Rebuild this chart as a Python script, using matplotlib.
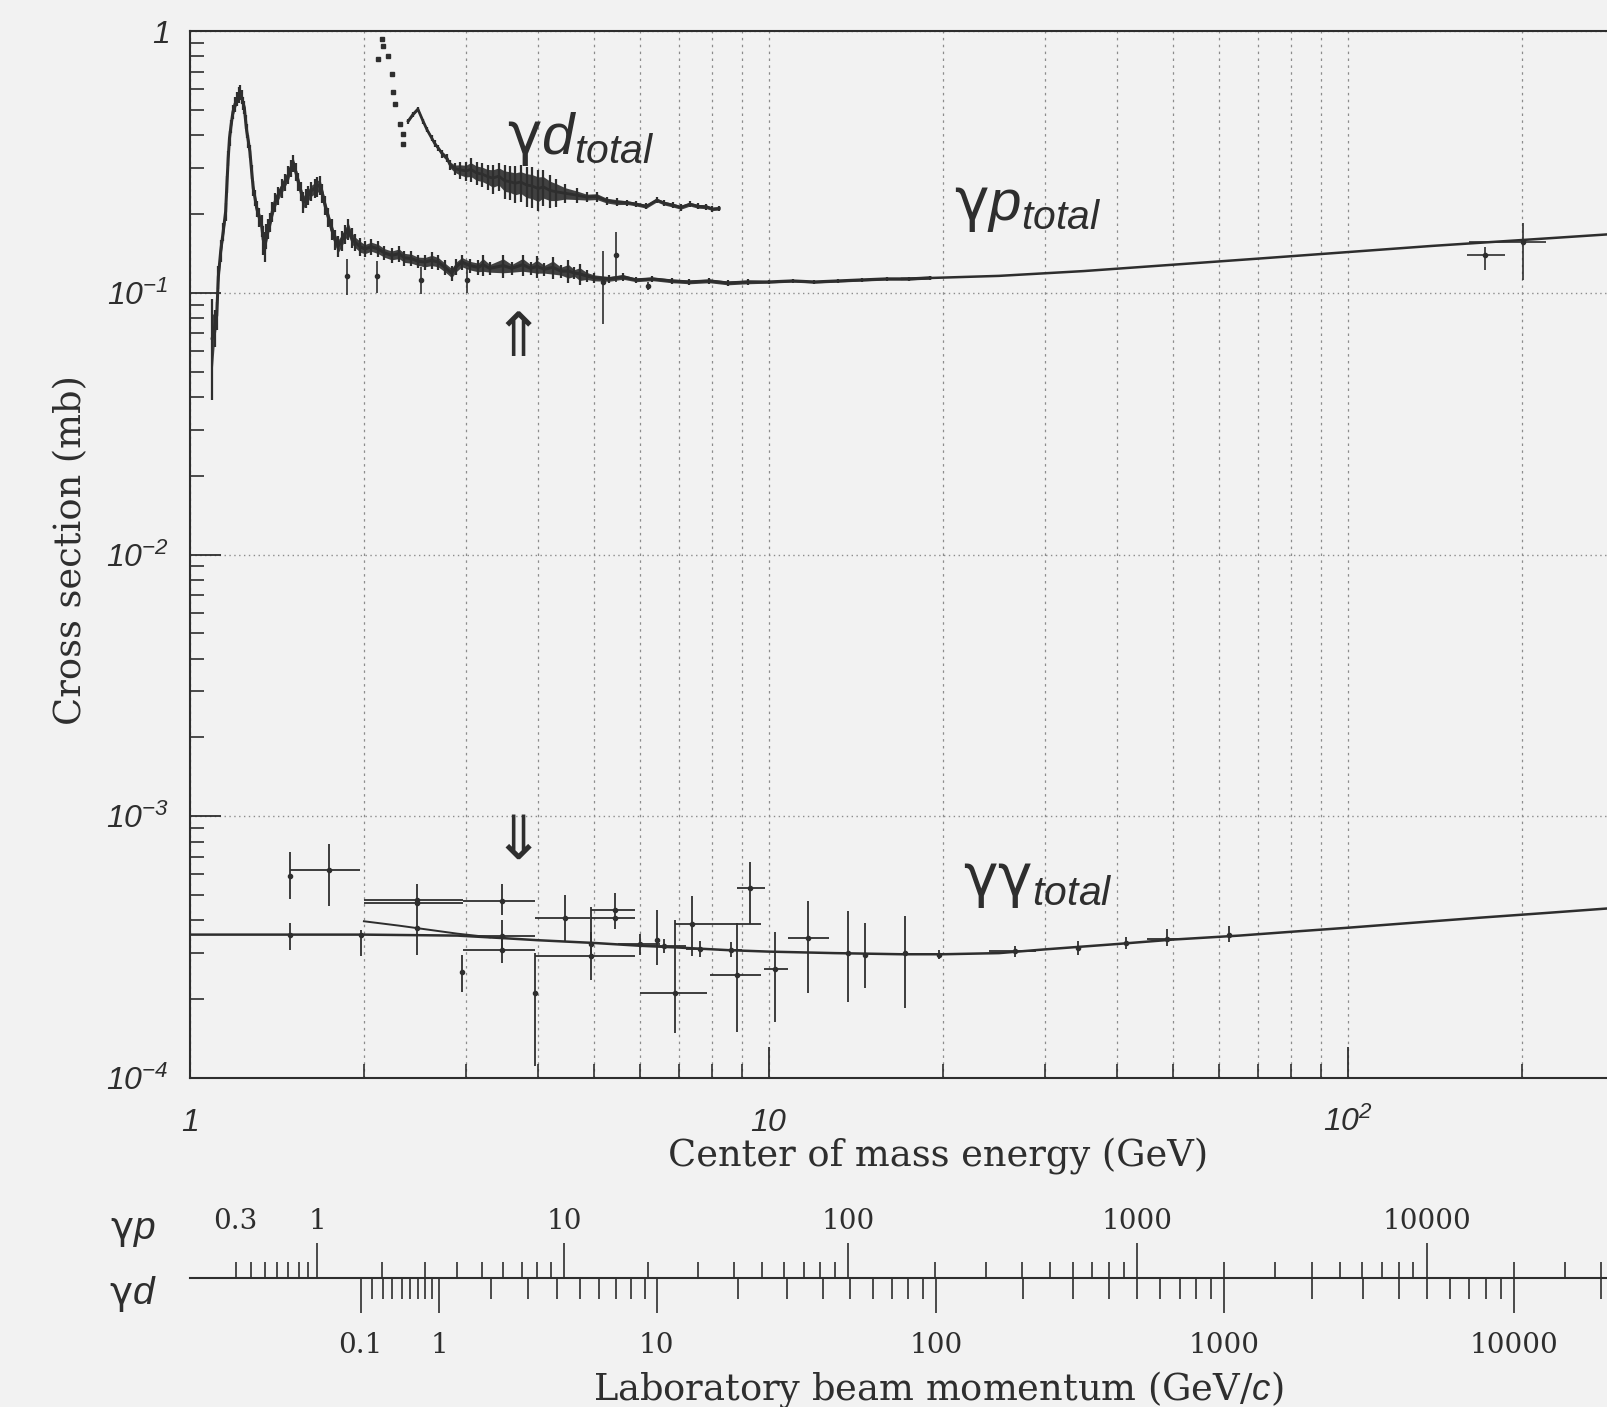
import numpy as np
import matplotlib.pyplot as plt
from matplotlib.ticker import LogLocator, NullFormatter

plt.rcParams['mathtext.fontset'] = 'custom'
plt.rcParams['mathtext.rm'] = 'Liberation Sans:italic'
plt.rcParams['mathtext.it'] = 'Liberation Sans:italic'
plt.rcParams['mathtext.sf'] = 'DejaVu Sans'

INK = '#2e2e2e'
PAPER = '#f2f2f2'
GRID = '#8c8c8c'
SERIF = 'DejaVu Serif'

# gamma p total cross section, dense data (W in GeV, sigma in mb)
gp_E = [1.094, 1.105, 1.114, 1.121, 1.132, 1.143, 1.154, 1.160, 1.166, 1.172,
        1.179, 1.188, 1.198, 1.208, 1.216, 1.222, 1.230, 1.237, 1.243, 1.250,
        1.255, 1.263, 1.271, 1.280, 1.288, 1.297, 1.306, 1.318, 1.332, 1.340,
        1.349, 1.357, 1.366, 1.377, 1.390, 1.404, 1.420, 1.442, 1.460, 1.481,
        1.495, 1.510, 1.525, 1.540, 1.556, 1.572, 1.588, 1.603, 1.620, 1.646,
        1.662, 1.679, 1.695, 1.713, 1.735, 1.759, 1.782, 1.806, 1.830, 1.855,
        1.880, 1.905, 1.931, 1.970, 2.008, 2.060, 2.117, 2.170, 2.233, 2.300,
        2.350, 2.416, 2.480, 2.549, 2.620, 2.687, 2.760, 2.835, 2.890, 2.953,
        3.050, 3.151, 3.210, 3.300, 3.480, 3.600, 3.760, 3.880, 3.980, 4.100,
        4.240, 4.380, 4.510, 4.620, 4.720, 4.850, 5.000, 5.300, 5.600, 5.900,
        6.300, 6.800, 7.300, 7.900, 8.500, 9.200, 10.00, 11.00, 12.00, 13.20,
        14.50, 16.00, 17.50, 19.00]
gp_sig = [0.067, 0.074, 0.082, 0.115, 0.145, 0.171, 0.204, 0.260, 0.327, 0.390,
          0.434, 0.490, 0.526, 0.550, 0.570, 0.583, 0.560, 0.530, 0.510, 0.450,
          0.415, 0.380, 0.346, 0.290, 0.251, 0.230, 0.210, 0.195, 0.181, 0.160,
          0.151, 0.165, 0.176, 0.186, 0.205, 0.222, 0.235, 0.251, 0.265, 0.282,
          0.300, 0.313, 0.290, 0.266, 0.245, 0.222, 0.230, 0.236, 0.245, 0.251,
          0.255, 0.258, 0.240, 0.216, 0.195, 0.175, 0.160, 0.151, 0.158, 0.168,
          0.175, 0.162, 0.156, 0.150, 0.147, 0.150, 0.147, 0.142, 0.139, 0.141,
          0.136, 0.135, 0.132, 0.131, 0.133, 0.131, 0.125, 0.119, 0.126, 0.131,
          0.127, 0.125, 0.128, 0.124, 0.127, 0.124, 0.128, 0.124, 0.126, 0.123,
          0.125, 0.121, 0.121, 0.119, 0.118, 0.116, 0.114, 0.113, 0.115, 0.112,
          0.113, 0.111, 0.110, 0.111, 0.109, 0.110, 0.110, 0.111, 0.110, 0.111,
          0.112, 0.113, 0.113, 0.114]
gp_err = [0.028, 0.012, 0.010, 0.012, 0.014, 0.014, 0.016, 0.020, 0.022, 0.025,
          0.025, 0.030, 0.035, 0.035, 0.040, 0.040, 0.035, 0.030, 0.030, 0.028,
          0.025, 0.022, 0.020, 0.018, 0.016, 0.016, 0.015, 0.016, 0.018, 0.020,
          0.020, 0.018, 0.016, 0.016, 0.018, 0.018, 0.018, 0.020, 0.020, 0.022,
          0.022, 0.024, 0.022, 0.022, 0.020, 0.020, 0.020, 0.020, 0.020, 0.020,
          0.022, 0.022, 0.020, 0.018, 0.016, 0.016, 0.014, 0.014, 0.014, 0.014,
          0.016, 0.014, 0.012, 0.012, 0.010, 0.010, 0.010, 0.009, 0.009, 0.010,
          0.009, 0.009, 0.008, 0.009, 0.010, 0.009, 0.008, 0.008, 0.009, 0.009,
          0.008, 0.008, 0.012, 0.007, 0.013, 0.007, 0.012, 0.007, 0.012, 0.007,
          0.012, 0.007, 0.012, 0.006, 0.011, 0.006, 0.005, 0.004, 0.004, 0.003,
          0.003, 0.003, 0.003, 0.003, 0.003, 0.003, 0.002, 0.002, 0.002, 0.002,
          0.002, 0.002, 0.002, 0.002]

# isolated gamma p points with large errors
gps_E = [1.87, 2.11, 2.51, 3.01, 5.18, 5.45, 6.2]
gps_sig = [0.116, 0.116, 0.112, 0.112, 0.110, 0.140, 0.106]
gps_err = [0.018, 0.016, 0.013, 0.012, 0.034, 0.030, 0.004]

# HERA gamma p points
hera_E = [173, 201]
hera_sig = [0.139, 0.156]
hera_Elo = [161, 162]
hera_Ehi = [187, 220]
hera_slo = [0.122, 0.112]
hera_shi = [0.149, 0.184]

# gamma p fit
gpfit_E = [17, 25, 35, 50, 70, 100, 140, 200, 280]
gpfit_sig = [0.113, 0.116, 0.121, 0.128, 0.135, 0.143, 0.151, 0.159, 0.167]

# gamma d total: scattered points near threshold and dense band
gdd_E = [2.118, 2.150, 2.161, 2.204, 2.234, 2.249, 2.263, 2.308, 2.337, 2.340]
gdd_sig = [0.785, 0.93, 0.88, 0.80, 0.687, 0.583, 0.526, 0.440, 0.403, 0.370]
gd_E = [2.385, 2.432, 2.479, 2.530, 2.570, 2.617, 2.650, 2.688, 2.730, 2.781,
        2.818, 2.870, 2.930, 3.000, 3.060, 3.130, 3.200, 3.270, 3.340, 3.420,
        3.500, 3.570, 3.650, 3.730, 3.820, 3.900, 4.000, 4.080, 4.190, 4.300,
        4.450, 4.660, 4.850, 5.050, 5.250, 5.470, 5.700, 5.910, 6.150, 6.410,
        6.600, 6.840, 7.050, 7.310, 7.550, 7.810, 8.000, 8.220]
gd_sig = [0.453, 0.481, 0.503, 0.453, 0.420, 0.391, 0.372, 0.357, 0.340, 0.327,
          0.308, 0.298, 0.295, 0.292, 0.296, 0.287, 0.284, 0.278, 0.274, 0.279,
          0.268, 0.266, 0.262, 0.265, 0.258, 0.256, 0.250, 0.254, 0.246, 0.243,
          0.240, 0.236, 0.232, 0.233, 0.225, 0.222, 0.221, 0.218, 0.214, 0.226,
          0.220, 0.216, 0.212, 0.218, 0.214, 0.213, 0.209, 0.210]
gd_err = [0.010, 0.010, 0.010, 0.010, 0.010, 0.010, 0.010, 0.010, 0.012, 0.012,
          0.014, 0.016, 0.022, 0.025, 0.030, 0.030, 0.030, 0.030, 0.035, 0.035,
          0.040, 0.040, 0.042, 0.042, 0.045, 0.045, 0.045, 0.040, 0.035, 0.030,
          0.020, 0.015, 0.010, 0.010, 0.008, 0.008, 0.006, 0.006, 0.006, 0.006,
          0.006, 0.006, 0.006, 0.006, 0.006, 0.006, 0.005, 0.005]

# gamma gamma total points (W, sigma, W range, sigma range)
gg_E = [1.49, 1.74, 1.49, 1.98, 2.47, 2.47, 2.47, 2.96, 3.46, 3.46, 3.46, 3.95,
        4.45, 4.93, 4.93, 5.43, 5.43, 6.0, 6.41, 6.6, 6.88, 7.37, 7.6, 8.6,
        8.82, 9.29, 10.25, 11.7, 13.7, 14.7, 17.2, 19.7, 26.6, 34.2, 41.4,
        48.7, 62.3]
gg_sig = [5.90e-4, 6.23e-4, 3.51e-4, 3.51e-4, 4.77e-4, 4.66e-4, 3.75e-4, 2.55e-4,
          4.74e-4, 3.48e-4, 3.07e-4, 2.11e-4, 4.07e-4, 2.92e-4, 3.24e-4, 4.37e-4,
          4.07e-4, 3.24e-4, 3.38e-4, 3.18e-4, 2.12e-4, 3.86e-4, 3.12e-4, 3.08e-4,
          2.48e-4, 5.33e-4, 2.60e-4, 3.43e-4, 3.00e-4, 2.96e-4, 3.00e-4, 2.96e-4,
          3.05e-4, 3.15e-4, 3.28e-4, 3.40e-4, 3.53e-4]
gg_Elo = [1.49, 1.49, 1.49, 1.98, 2.00, 2.00, 2.47, 2.96, 2.97, 2.97, 2.97, 3.95,
          3.95, 3.95, 4.93, 4.93, 4.93, 5.5, 6.41, 6.0, 5.99, 6.88, 7.2, 8.2,
          7.92, 8.82, 9.80, 10.8, 13.7, 14.7, 17.2, 19.7, 24.0, 34.2, 41.4,
          45.0, 62.3]
gg_Ehi = [1.49, 1.97, 1.49, 1.98, 2.97, 2.97, 2.47, 2.96, 3.95, 3.95, 3.95, 3.95,
          4.92, 5.88, 4.93, 5.88, 5.88, 6.5, 6.41, 7.2, 7.82, 9.72, 8.0, 9.0,
          9.72, 9.87, 10.8, 12.7, 13.7, 14.7, 17.2, 19.7, 29.0, 34.2, 41.4,
          52.0, 62.3]
gg_slo = [4.81e-4, 4.53e-4, 3.09e-4, 2.92e-4, 4.03e-4, 4.66e-4, 2.96e-4, 2.14e-4,
          4.20e-4, 3.00e-4, 2.75e-4, 1.11e-4, 3.33e-4, 2.37e-4, 2.90e-4, 3.70e-4,
          4.07e-4, 2.95e-4, 2.70e-4, 3.00e-4, 1.49e-4, 2.92e-4, 2.90e-4, 2.90e-4,
          1.50e-4, 3.86e-4, 1.63e-4, 2.11e-4, 1.96e-4, 2.20e-4, 1.85e-4, 2.85e-4,
          2.90e-4, 2.95e-4, 3.10e-4, 3.20e-4, 3.30e-4]
gg_shi = [7.28e-4, 7.81e-4, 3.92e-4, 3.69e-4, 5.49e-4, 4.66e-4, 4.03e-4, 2.96e-4,
          5.50e-4, 4.00e-4, 3.40e-4, 3.00e-4, 5.02e-4, 3.60e-4, 4.50e-4, 5.10e-4,
          4.07e-4, 3.55e-4, 4.40e-4, 3.40e-4, 4.03e-4, 4.95e-4, 3.35e-4, 3.30e-4,
          3.90e-4, 6.66e-4, 3.60e-4, 4.74e-4, 4.34e-4, 3.90e-4, 4.15e-4, 3.08e-4,
          3.20e-4, 3.35e-4, 3.45e-4, 3.70e-4, 3.80e-4]

# gamma gamma fits
ggfit_E = [1.0, 2.0, 2.9, 3.5, 4.0, 5.0, 6.0, 7.0, 8.5, 10, 13, 17, 20, 25, 30,
           40, 50, 65, 80, 100, 130, 170, 220, 280]
ggfit_sig = [3.53e-4, 3.53e-4, 3.50e-4, 3.42e-4, 3.36e-4, 3.28e-4, 3.20e-4,
             3.15e-4, 3.08e-4, 3.04e-4, 3.00e-4, 2.97e-4, 2.97e-4, 3.00e-4,
             3.10e-4, 3.25e-4, 3.38e-4, 3.50e-4, 3.62e-4, 3.75e-4, 3.92e-4,
             4.10e-4, 4.27e-4, 4.44e-4]
ggfit2_E = [2.0, 2.3, 2.6, 2.9, 3.3]
ggfit2_sig = [3.97e-4, 3.82e-4, 3.68e-4, 3.56e-4, 3.45e-4]

# laboratory momentum scale ticks (GeV/c)
gp_major_p = [1, 10, 100, 1000, 10000]
gp_major_lbl = ['1', '10', '100', '1000', '10000']
gp_minor_p = [m / 10 for m in range(3, 10)] + [m * 10.0**k for k in range(0, 4) for m in range(2, 10)] + [20000, 30000, 40000]
gd_major_p = [0.1, 1, 10, 100, 1000, 10000]
gd_major_lbl = ['0.1', '1', '10', '100', '1000', '10000']
gd_minor_p = [m * 10.0**k for k in range(-1, 4) for m in range(2, 10)] + [20000]

M_P = 0.938
M_D = 1.876


def w_from_plab(p, m):
    return np.sqrt(m**2 + 2 * m * np.asarray(p, float))


W, H = 1607, 1407
X0 = 189.6
XMAX = 10 ** ((W - X0) / 579.0)

fig = plt.figure(figsize=(W / 100, H / 100), dpi=100, facecolor=PAPER)
ax = fig.add_axes([X0 / W, 1 - 1078 / H, 1 - X0 / W, (1078 - 31) / H])
ax.set_facecolor(PAPER)
ax.set_xscale('log')
ax.set_yscale('log')
ax.set_xlim(1, XMAX)
ax.set_ylim(1e-4, 1)

# gamma p
gp_lo = np.subtract(gp_sig, np.multiply(gp_err, 0.6))
gp_hi = np.add(gp_sig, np.multiply(gp_err, 0.6))
ax.fill_between(gp_E, gp_lo, gp_hi, color=INK, lw=0, alpha=0.9)
ax.plot(gp_E, gp_sig, color=INK, lw=2.2)
ax.errorbar(gp_E, gp_sig, yerr=gp_err, fmt='none', ecolor=INK, elinewidth=1.6)
ax.errorbar(gps_E, gps_sig, yerr=gps_err, fmt='o', ms=3, color=INK, elinewidth=1.2)
ax.errorbar(hera_E, hera_sig,
            xerr=[np.subtract(hera_E, hera_Elo), np.subtract(hera_Ehi, hera_E)],
            yerr=[np.subtract(hera_sig, hera_slo), np.subtract(hera_shi, hera_sig)],
            fmt='o', ms=3, color=INK, elinewidth=1.2)
ax.plot(gpfit_E, gpfit_sig, color=INK, lw=1.8)

# gamma d
ax.plot(gdd_E, gdd_sig, ls='none', marker='s', ms=2.6, color=INK)
gd_lo = np.subtract(gd_sig, np.multiply(gd_err, 0.6))
gd_hi = np.add(gd_sig, np.multiply(gd_err, 0.6))
ax.fill_between(gd_E, gd_lo, gd_hi, color=INK, lw=0, alpha=0.9)
ax.plot(gd_E, gd_sig, color=INK, lw=2.0)
ax.errorbar(gd_E, gd_sig, yerr=gd_err, fmt='none', ecolor=INK, elinewidth=1.6)

# gamma gamma
ax.plot(ggfit_E, ggfit_sig, color=INK, lw=1.8)
ax.plot(ggfit2_E, ggfit2_sig, color=INK, lw=1.4)
ax.errorbar(gg_E, gg_sig,
            xerr=[np.subtract(gg_E, gg_Elo), np.subtract(gg_Ehi, gg_E)],
            yerr=[np.subtract(gg_sig, gg_slo), np.subtract(gg_shi, gg_sig)],
            fmt='o', ms=3, color=INK, elinewidth=1.3)

# labels inside
ax.text(3.53, 0.338, r'$\mathsf{\gamma}d_{total}$', fontsize=42, color=INK, ha='left', va='baseline')
ax.text(20.9, 0.19, r'$\mathsf{\gamma}p_{total}$', fontsize=42, color=INK, ha='left', va='baseline')
ax.text(21.7, 4.94e-4, r'$\mathsf{\gamma\gamma}_{total}$', fontsize=42, color=INK, ha='left', va='baseline')
ax.text(3.69, 0.0665, '\u21d1', fontsize=44, color=INK, ha='center', va='center', family='DejaVu Sans')
ax.text(3.69, 7.95e-4, '\u21d3', fontsize=44, color=INK, ha='center', va='center', family='DejaVu Sans')

# axes styling
ax.set_axisbelow(True)
ax.grid(which='major', axis='y', ls=(0, (1, 2.5)), color=GRID, lw=1.0)
ax.grid(which='both', axis='x', ls=(0, (2, 3.5)), color=GRID, lw=0.9)
ax.spines['right'].set_visible(False)
for s in ['left', 'top', 'bottom']:
    ax.spines[s].set_linewidth(1.5)
    ax.spines[s].set_color(INK)

ax.set_xticks([1, 10, 100], labels=['$1$', '$10$', '$10^{2}$'])
ax.xaxis.set_minor_locator(LogLocator(base=10, subs=np.arange(2, 10), numticks=20))
ax.xaxis.set_minor_formatter(NullFormatter())
ax.set_yticks([1e-4, 1e-3, 1e-2, 1e-1, 1],
              labels=['$10^{-4}$', '$10^{-3}$', '$10^{-2}$', '$10^{-1}$', '$1$'])
ax.yaxis.set_minor_locator(LogLocator(base=10, subs=np.arange(2, 10), numticks=20))
ax.yaxis.set_minor_formatter(NullFormatter())
ax.tick_params(which='both', direction='in', top=False, right=False, colors=INK)
ax.tick_params(which='major', length=22, width=1.3, labelsize=23)
ax.tick_params(which='minor', length=10, width=1.2)
ax.tick_params(axis='x', which='major', pad=38)
ax.tick_params(axis='y', which='major', pad=15)
for lab in ax.get_xticklabels():
    lab.set_verticalalignment('baseline')

fig.text(71 / W, 1 - 550 / H, 'Cross section (mb)', rotation=90, ha='center', va='center',
         fontsize=26.5, family=SERIF, color=INK)
fig.text(938 / W, 1 - 1156 / H, 'Center of mass energy (GeV)', ha='center', va='center',
         fontsize=26.5, family=SERIF, color=INK)
fig.text(938 / W, 1 - 1389 / H, 'Laboratory beam momentum (GeV/$\\mathit{c}$)', ha='center', va='center',
         fontsize=26.5, family=SERIF, color=INK)
fig.text(133 / W, 1 - 1230 / H, r'$\mathsf{\gamma}p$', ha='center', va='center', fontsize=28, color=INK)
fig.text(133 / W, 1 - 1294 / H, r'$\mathsf{\gamma}d$', ha='center', va='center', fontsize=28, color=INK)

# laboratory momentum scale
y_lab = 1 - 1278 / H
axd = fig.add_axes([X0 / W, y_lab, 1 - X0 / W, 1e-5])
axd.set_facecolor('none')
axd.set_xscale('log')
axd.set_xlim(1, XMAX)
axd.set_yticks([])
for s in ['top', 'left', 'right']:
    axd.spines[s].set_visible(False)
axd.spines['bottom'].set_linewidth(1.5)
axd.spines['bottom'].set_color(INK)
axd.set_xticks(w_from_plab(gd_major_p, M_D), labels=gd_major_lbl)
axd.set_xticks(w_from_plab(gd_minor_p, M_D), minor=True)
axd.xaxis.set_minor_formatter(NullFormatter())
axd.tick_params(which='both', direction='out', width=1.2, colors=INK)
axd.tick_params(which='major', length=25, pad=14, labelsize=20, labelfontfamily=SERIF)
axd.tick_params(which='minor', length=15)

axp = axd.twiny()
axp.set_xscale('log')
axp.set_xlim(1, XMAX)
for s in axp.spines.values():
    s.set_visible(False)
axp.set_xticks(w_from_plab(gp_major_p, M_P), labels=gp_major_lbl)
gp_minor_lbl = ['0.3' if p == 0.3 else '' for p in gp_minor_p]
axp.set_xticks(w_from_plab(gp_minor_p, M_P), labels=gp_minor_lbl, minor=True)
axp.tick_params(which='both', direction='out', width=1.2, colors=INK, labelfontfamily=SERIF, labelsize=20)
axp.tick_params(which='major', length=25, pad=6)
axp.tick_params(which='minor', length=11.5, pad=19.5)

fig.savefig('out.png', dpi=100, facecolor=PAPER)
